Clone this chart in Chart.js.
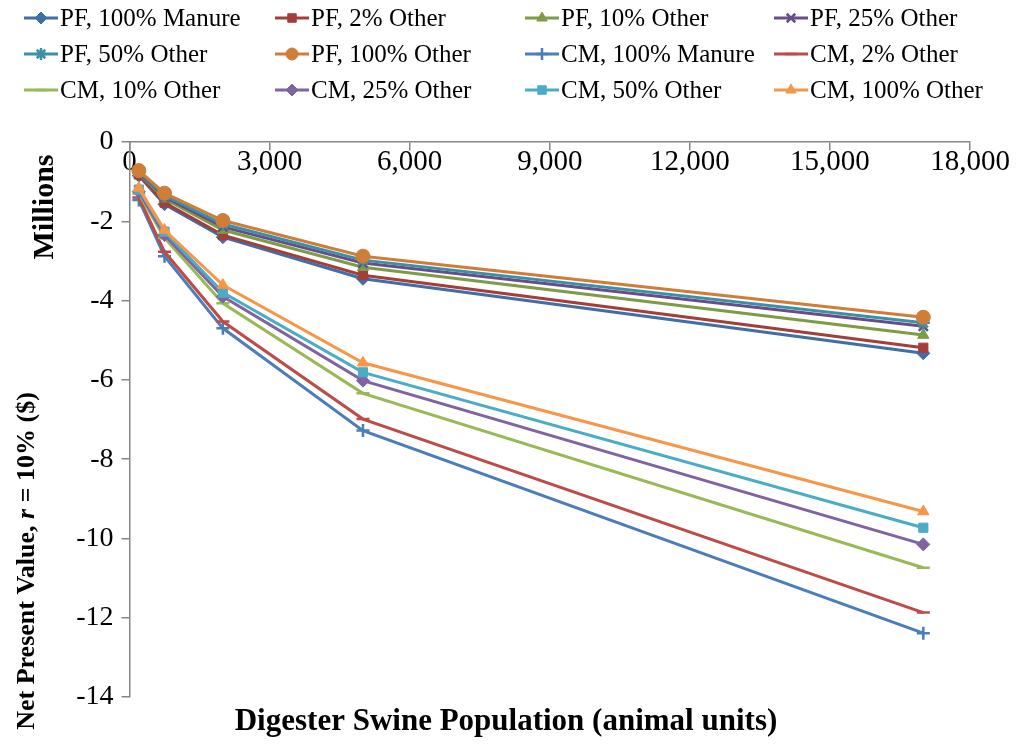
<!DOCTYPE html>
<html>
<head>
<meta charset="utf-8">
<script src="https://cdn.jsdelivr.net/npm/chart.js@4.4.1/dist/chart.umd.min.js"></script>
<style>
  html, body { margin: 0; padding: 0; background: #fff; }
  #wrap { width: 1021px; height: 745px; position: relative; }
</style>
</head>
<body>
<div id="wrap"><canvas id="npv"></canvas></div>
<script>
// digester swine population (animal units)
const population = [200, 750, 2000, 5000, 17000];

const seriesNames = [
  'PF, 100% Manure', 'PF, 2% Other', 'PF, 10% Other', 'PF, 25% Other',
  'PF, 50% Other', 'PF, 100% Other', 'CM, 100% Manure', 'CM, 2% Other',
  'CM, 10% Other', 'CM, 25% Other', 'CM, 50% Other', 'CM, 100% Other'
];

// NPV in millions of $
const pf100Manure = [-0.85, -1.57, -2.40, -3.45, -5.33];
const pf2Other    = [-0.82, -1.53, -2.35, -3.36, -5.19];
const pf10Other   = [-0.78, -1.43, -2.22, -3.16, -4.87];
const pf25Other   = [-0.76, -1.39, -2.14, -3.05, -4.65];
const pf50Other   = [-0.74, -1.35, -2.07, -2.98, -4.56];
const pf100Other  = [-0.72, -1.29, -1.98, -2.88, -4.42];
const cm100Manure = [-1.46, -2.88, -4.70, -7.28, -12.39];
const cm2Other    = [-1.40, -2.77, -4.53, -6.99, -11.87];
const cm10Other   = [-1.30, -2.42, -4.07, -6.34, -10.74];
const cm25Other   = [-1.25, -2.35, -3.90, -6.02, -10.15];
const cm50Other   = [-1.20, -2.26, -3.80, -5.81, -9.73];
const cm100Other  = [-1.16, -2.22, -3.61, -5.57, -9.32];

const allSeries = [pf100Manure, pf2Other, pf10Other, pf25Other, pf50Other, pf100Other,
  cm100Manure, cm2Other, cm10Other, cm25Other, cm50Other, cm100Other];

const colors = ['#3F6EA8', '#A33F3B', '#7E9B45', '#674E88', '#3A90A8', '#D07D38',
  '#4A7EBB', '#BE4B48', '#98B954', '#7F63A2', '#4BACC6', '#F79646'];
const markers = ['rectRot', 'rect', 'triangle', 'crossRot', 'star', 'circle',
  'cross', 'line', 'line', 'rectRot', 'rect', 'triangle'];

const serif = '"Liberation Serif", "Times New Roman", serif';
const legendCols = [24, 275, 525, 774];
const legendRows = [18, 54, 90];

const thinMarker = m => m === 'cross' || m === 'crossRot' || m === 'star' || m === 'line';

const datasets = allSeries.map((vals, i) => ({
  label: seriesNames[i],
  data: vals.map((v, j) => ({ x: population[j], y: v })),
  borderColor: colors[i],
  backgroundColor: colors[i],
  pointBorderColor: colors[i],
  pointBackgroundColor: colors[i],
  pointStyle: markers[i],
  pointRadius: markers[i] === 'circle' ? 7 : 6.5,
  pointBorderWidth: thinMarker(markers[i]) ? 2.5 : 1,
  borderWidth: 3,
  tension: 0,
  order: allSeries.length - i
}));

// legend in a 4-column grid, like the original
const gridLegend = {
  id: 'gridLegend',
  afterDraw(chart) {
    const ctx = chart.ctx;
    ctx.save();
    chart.data.datasets.forEach((ds, i) => {
      const x0 = legendCols[i % 4];
      const y = legendRows[Math.floor(i / 4)];
      ctx.strokeStyle = ds.borderColor;
      ctx.fillStyle = ds.borderColor;
      ctx.lineWidth = 3;
      ctx.beginPath();
      ctx.moveTo(x0, y);
      ctx.lineTo(x0 + 34, y);
      ctx.stroke();
      ctx.lineWidth = ds.pointBorderWidth;
      Chart.helpers.drawPoint(ctx, { pointStyle: ds.pointStyle, radius: 6, borderWidth: ds.pointBorderWidth, rotation: 0 }, x0 + 17, y);
      ctx.fillStyle = '#000';
      ctx.font = '25px ' + serif;
      ctx.textBaseline = 'middle';
      ctx.textAlign = 'left';
      ctx.fillText(ds.label, x0 + 36, y + 1);
    });

    // axis titles
    ctx.fillStyle = '#000';
    ctx.textBaseline = 'middle';
    ctx.textAlign = 'center';
    ctx.font = 'bold 31px ' + serif;
    ctx.fillText('Digester Swine Population (animal units)', 506, 722);

    ctx.save();
    ctx.translate(45, 207);
    ctx.rotate(-Math.PI / 2);
    ctx.font = 'bold 30px ' + serif;
    ctx.fillText('Millions', 0, 0);
    ctx.restore();

    const parts = [['Net Present Value, ', 'bold 26px '], ['r', 'italic bold 26px '], [' = 10% ($)', 'bold 26px ']];
    let total = 0;
    parts.forEach(p => { ctx.font = p[1] + serif; total += ctx.measureText(p[0]).width; });
    ctx.save();
    ctx.translate(27, 561);
    ctx.rotate(-Math.PI / 2);
    ctx.textAlign = 'left';
    let cx = -total / 2;
    parts.forEach(p => {
      ctx.font = p[1] + serif;
      ctx.fillText(p[0], cx, 0);
      cx += ctx.measureText(p[0]).width;
    });
    ctx.restore();
    ctx.restore();
  }
};

new Chart(document.getElementById('npv'), {
  type: 'line',
  data: { datasets },
  plugins: [gridLegend],
  options: {
    responsive: true,
    maintainAspectRatio: false,
    animation: false,
    devicePixelRatio: 1,
    layout: { padding: { top: 142, bottom: 48, left: 0, right: 51 } },
    plugins: {
      legend: { display: false },
      tooltip: { enabled: false }
    },
    scales: {
      x: {
        type: 'linear',
        position: { y: 0 },
        min: 0,
        max: 18000,
        ticks: {
          stepSize: 3000,
          padding: -5,
          color: '#000',
          font: { family: serif, size: 29 },
          maxRotation: 0,
          callback: v => v.toLocaleString('en-US')
        },
        grid: { drawOnChartArea: false, drawTicks: true, tickLength: 8, color: '#868686', lineWidth: 1.5 },
        border: { display: true, color: '#868686', width: 1.5 }
      },
      y: {
        position: 'left',
        min: -14,
        max: 0,
        afterFit: scale => { scale.width = 129.5; },
        ticks: {
          stepSize: 2,
          padding: 8,
          color: '#000',
          font: { family: serif, size: 28 }
        },
        grid: { drawOnChartArea: false, drawTicks: true, tickLength: 8, color: '#868686', lineWidth: 1.5 },
        border: { display: true, color: '#868686', width: 1.5 }
      }
    }
  }
});
</script>
</body>
</html>
